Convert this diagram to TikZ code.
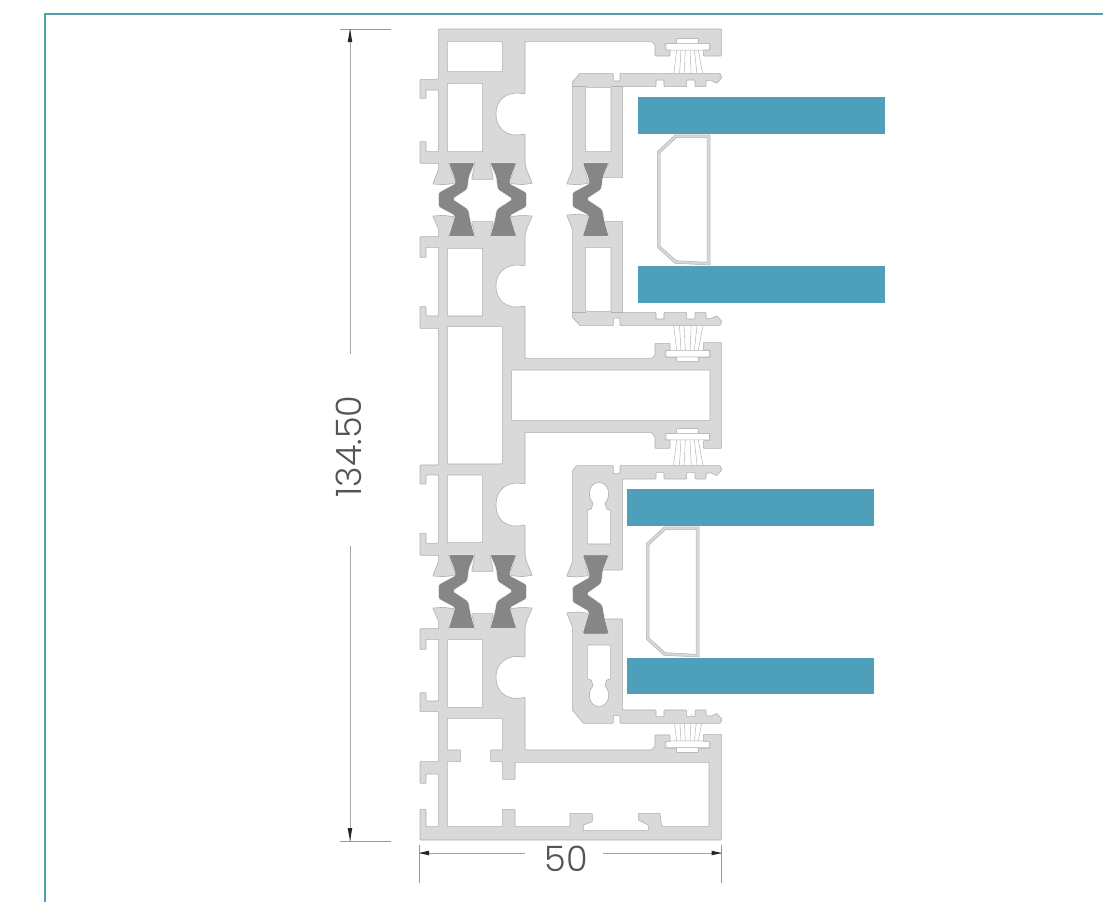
\documentclass[tikz,border=0pt]{standalone}
\usepackage{fontspec}
\newfontfamily\dimfont{Poppins Light}
\definecolor{alu}{HTML}{D9D9D9}
\definecolor{aluline}{HTML}{B0B0B0}
\definecolor{poly}{HTML}{868686}
\definecolor{glass}{HTML}{4E9FBA}
\definecolor{framec}{HTML}{4E9FAE}
\definecolor{dimtext}{HTML}{555555}
\tikzset{
  profile/.style={fill=alu,draw=aluline,line width=0.6pt,even odd rule,rounded corners=0.7pt,line join=round},
  polyam/.style={fill=poly,draw=white,line width=0.35pt,rounded corners=1.6pt},
  glasspane/.style={fill=glass,draw=none},
  spacer/.style={fill=alu,draw=aluline,line width=0.5pt,even odd rule},
  holder/.style={fill=white,draw=aluline,line width=0.5pt},
  bristle/.style={draw=aluline,line width=0.45pt},
  dimline/.style={draw=black!35,line width=0.7pt},
  dimtick/.style={draw=black!40,line width=0.5pt},
  dimtip/.style={fill=black!85,draw=none},
  dimlabel/.style={text=dimtext,font=\dimfont\fontsize{35}{35}\selectfont,inner sep=0pt},
}
% all paths below are in 3x zoomed units, origin at (410,20)
\def\pOne{(85,27)--(935,27)--(935,108)--(880,108)--(880,90)--(900,90)--(900,70)--(865,70)--(865,55)--(800,55)--(800,70)--(765,70)--(765,90)--(780,90)--(780,108)--(735,108)--(735,75)--(725,65)--(345,65)--(345,222)
 .. controls (285,210) and (258,245) .. (258,282) .. controls (258,320) and (285,355) .. (345,342)
 --(345,428)--(350,450)--(367,490)--(335,494)--(298,490)--(305,470)--(320,428)--(240,428)--(250,478)--(185,478)--(195,428)--(115,428)--(130,470)--(137,490)--(100,494)--(68,492)--(85,450)--(85,430)--(30,430)--(30,365)--(48,365)--(48,395)--(85,395)--(85,210)--(48,210)--(48,235)--(30,235)--(30,178)--(85,178)--cycle
 (112,65)--(277,65)--(277,155)--(112,155)--cycle
 (112,190)--(218,190)--(218,395)--(112,395)--cycle}
\def\pTwo{(68,588)--(100,586)--(133,590)--(125,625)--(115,650)--(195,650)--(185,605)--(250,605)--(240,650)--(320,650)--(310,625)--(302,590)--(335,586)--(367,588)--(350,625)--(345,650)--(345,738)
 .. controls (285,726) and (258,761) .. (258,798) .. controls (258,836) and (285,871) .. (345,858)
 --(345,1015)--(725,1015)--(735,1005)--(735,970)--(780,970)--(780,992)--(765,992)--(765,1012)--(800,1012)--(800,1025)--(865,1025)--(865,1012)--(900,1012)--(900,990)--(880,990)--(880,968)--(935,968)--(935,1285)--(880,1285)--(880,1262)--(900,1262)--(900,1240)--(865,1240)--(865,1225)--(800,1225)--(800,1240)--(765,1240)--(765,1260)--(780,1260)--(780,1285)--(735,1285)--(735,1250)--(725,1238)--(345,1238)--(345,1392)
 .. controls (285,1380) and (258,1415) .. (258,1455) .. controls (258,1495) and (285,1528) .. (345,1515)
 --(345,1604)--(350,1626)--(367,1666)--(335,1670)--(298,1666)--(305,1646)--(320,1604)--(240,1604)--(250,1654)--(185,1654)--(195,1604)--(115,1604)--(130,1646)--(137,1666)--(100,1670)--(68,1668)--(85,1626)--(85,1606)--(30,1606)--(30,1540)--(48,1540)--(48,1570)--(85,1570)--(85,1365)--(48,1365)--(48,1392)--(30,1392)--(30,1335)--(85,1335)--(85,925)--(30,925)--(30,860)--(48,860)--(48,888)--(85,888)--(85,682)--(48,682)--(48,712)--(30,712)--(30,650)--(85,650)--(85,625)--cycle
 (112,685)--(218,685)--(218,888)--(112,888)--cycle
 (112,920)--(277,920)--(277,1332)--(112,1332)--cycle
 (305,1050)--(900,1050)--(900,1202)--(305,1202)--cycle
 (112,1365)--(218,1365)--(218,1568)--(112,1568)--cycle}
\def\pThree{(68,1764)--(100,1762)--(133,1766)--(125,1801)--(115,1826)--(195,1826)--(185,1781)--(250,1781)--(240,1826)--(320,1826)--(310,1801)--(302,1766)--(335,1762)--(367,1764)--(350,1801)--(345,1826)--(345,1912)
 .. controls (285,1900) and (258,1935) .. (258,1972) .. controls (258,2010) and (285,2045) .. (345,2032)
 --(345,2190)--(725,2190)--(735,2180)--(735,2145)--(780,2145)--(780,2165)--(765,2165)--(765,2185)--(800,2185)--(800,2198)--(865,2198)--(865,2185)--(900,2185)--(900,2165)--(880,2165)--(880,2143)--(935,2143)--(935,2460)--(30,2460)--(30,2368)--(48,2368)--(48,2420)--(85,2420)--(85,2262)--(48,2262)--(48,2290)--(30,2290)--(30,2225)--(85,2225)--(85,2075)--(30,2075)--(30,2018)--(48,2018)--(48,2043)--(85,2043)--(85,1858)--(48,1858)--(48,1888)--(30,1888)--(30,1826)--(85,1826)--(85,1801)--cycle
 (112,1859)--(218,1859)--(218,2062)--(112,2062)--cycle
 (112,2095)--(277,2095)--(277,2190)--(242,2190)--(242,2225)--(277,2225)--(277,2278)--(315,2278)--(315,2227)--(897,2227)--(897,2420)--(755,2420)--(750,2380)--(685,2380)--(685,2400)--(715,2415)--(715,2432)--(520,2432)--(520,2415)--(547,2405)--(547,2380)--(480,2380)--(480,2420)--(315,2420)--(315,2368)--(277,2368)--(277,2420)--(112,2420)--(112,2225)--(152,2225)--(152,2190)--(112,2190)--cycle}
\newcommand\sashoutline[2]{#1--(610,160)--(610,183)--(630,183)--(630,160)--(930,160)--(936,172)--(920,190)--(905,182)--(888,182)--(888,200)--(855,200)--(855,180)--(830,180)--(830,200)--(762,200)--(762,180)--(738,180)--(738,200)--(638,200)--(638,473)--(578,473)--(597,428)--(520,428)--(530,470)--(537,490)--(503,494)--(470,492)--(487,450)--#2--cycle}
\def\polyshape{(115,428)--(195,428)--(177,470)--(172,508)--(128,537)--(175,568)--(182,605)--(195,650)--(115,650)--(128,610)--(135,587)--(85,560)--(85,518)--(137,490)--(130,465)--cycle}
\def\keyhole{(532,395)--(602,395)--(602,293)--(590,290)--(585,272) .. controls (605,250) and (595,211) .. (567,211) .. controls (539,211) and (529,250) .. (549,272)--(544,290)--(532,293)--cycle}
\newcommand\brushset{%
  \foreach \a/\b in {800/790,813/808,826/822,840/844,853/862,865/880}{\draw[bristle] (\a,90)--(\b,172);}%
  \draw[holder,rounded corners=0.6pt] (800,55)--(865,55)--(865,70)--(800,70)--cycle;
  \draw[holder,rounded corners=0.6pt] (768,70)--(898,70)--(898,90)--(768,90)--cycle;}
\newcommand\sashlines{\draw[aluline,line width=0.5pt] (487,200)--(527,200) (603,200)--(638,200);}
\begin{document}
\begin{tikzpicture}[x=1pt,y=-1pt]
\useasboundingbox (0,0) rectangle (1103,902);
\fill[white] (0,0) rectangle (1103,902);
% frame
\draw[framec,line width=2.2pt] (45,902)--(45,14)--(1103,14);
% glass
\fill[glasspane] (638,97) rectangle (885,134);
\fill[glasspane] (638,266) rectangle (885,303);
\fill[glasspane] (627,489) rectangle (874,526);
\fill[glasspane] (627,658) rectangle (874,694);
\begin{scope}[shift={(410,20)},x=0.33333pt,y=-0.33333pt]
% spacers
\draw[spacer] (795,345)--(900,345)--(900,735)--(795,730)--(742,682)--(742,395)--cycle
  (799,353)--(891,353)--(891,727)--(799,722)--(750,678)--(750,399)--cycle;
\begin{scope}[shift={(-33,1176)}]
\draw[spacer] (795,345)--(900,345)--(900,735)--(795,730)--(742,682)--(742,395)--cycle
  (799,353)--(891,353)--(891,727)--(799,722)--(750,678)--(750,399)--cycle;
\end{scope}
% brushes
\brushset
\begin{scope}[shift={(0,1081)},yscale=-1]\brushset\end{scope}
\begin{scope}[shift={(0,1170)}]\brushset\end{scope}
\begin{scope}[shift={(0,2253)},yscale=-1]\brushset\end{scope}
% main profile
\draw[profile] \pOne;
\draw[profile] \pTwo;
\draw[profile] \pThree;
% sash profiles
\draw[profile] \sashoutline{(510,160)}{(487,186)} (527,203)--(603,203)--(603,395)--(527,395)--cycle;
\sashlines
\begin{scope}[shift={(0,1077)},yscale=-1]
\draw[profile] \sashoutline{(510,160)}{(487,186)} (527,203)--(603,203)--(603,395)--(527,395)--cycle;
\sashlines
\end{scope}
\begin{scope}[shift={(0,1177)}]
\draw[profile] \sashoutline{(500,160)}{(487,176)} \keyhole;
\end{scope}
\begin{scope}[shift={(0,2270)},yscale=-1]
\draw[profile] \sashoutline{(520,160)}{(487,200)} \keyhole;
\end{scope}
% thermal breaks
\foreach \dy in {0,1176}{
  \begin{scope}[shift={(0,\dy)}]
    \draw[polyam] \polyshape;
    \begin{scope}[shift={(435,0)},xscale=-1]\draw[polyam] \polyshape;\end{scope}
  \end{scope}}
\begin{scope}[shift={(402,0)}]\draw[polyam] \polyshape;\end{scope}
\begin{scope}[shift={(402,1723.5)},yscale=1.07,shift={(0,-539)}]\draw[polyam] \polyshape;\end{scope}
\end{scope}
% dimensions
\coordinate (vt) at (350,29);
\coordinate (vb) at (350,841);
\coordinate (hl) at (419,853);
\coordinate (hr) at (721.7,853);
\node[dimlabel,rotate=90] (vlabel) at (349,446.5) {134.50};
\node[dimlabel] (hlabel) at (566,859) {50};
\coordinate (vg1) at (350,354);
\coordinate (vg2) at (350,546);
\coordinate (hg1) at (525,853);
\coordinate (hg2) at (603,853);
\draw[dimline] (vt)--(vg1);
\draw[dimline] (vg2)--(vb);
\draw[dimline] (hl)--(hg1);
\draw[dimline] (hg2)--(hr);
\draw[dimtick] (340,29.3)--(391,29.3);
\draw[dimtick] (340,841)--(391,841);
\draw[dimtick] (419,845)--(419,883);
\draw[dimtick] (721.7,845)--(721.7,883);
\fill[dimtip] (vt)--(347.7,42)--(352.3,42)--cycle;
\fill[dimtip] (vb)--(347.7,828)--(352.3,828)--cycle;
\fill[dimtip] (hl)--(429,850.7)--(429,855.3)--cycle;
\fill[dimtip] (hr)--(711.7,850.7)--(711.7,855.3)--cycle;
\end{tikzpicture}
\end{document}
